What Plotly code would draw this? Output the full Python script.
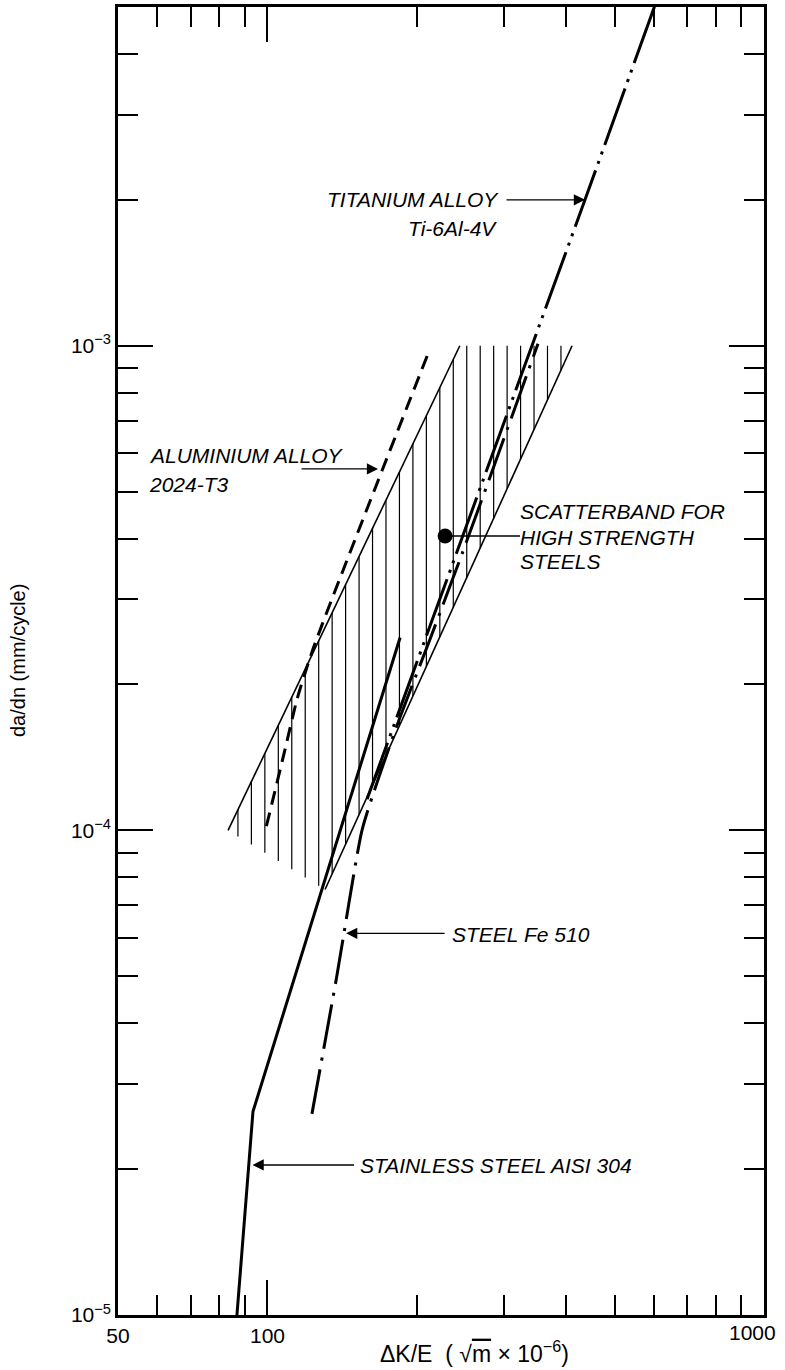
import numpy as np
import plotly.graph_objects as go

# ---------------- data ----------------
# Scatterband for high strength steels (upper / lower boundary lines)
band_upper_x = [83.3, 244.0]
band_upper_y = [1.0e-4, 1.0e-3]
band_lower_x = [130.6, 410.6]
band_lower_y = [7.55e-5, 1.0e-3]
band_bottom_left_x = [83.3, 130.6]
band_bottom_left_y = [1.0e-4, 7.55e-5]
band_top_y = 1.0e-3
hatch_x_start, hatch_x_end, hatch_count = 87.2, 390.0, 25

# Stainless steel AISI 304 (solid)
ss_x = [86.8, 93.5, 185.0]
ss_y = [1.0e-5, 2.63e-5, 2.5e-4]

# Steel Fe 510 (dash-dot)
fe_x = [122.9, 138.1, 155.0, 167.0, 184.9, 212.5, 246.5, 280.7, 322.6, 350.6]
fe_y = [2.6e-5, 5.04e-5, 1.0e-4, 1.274e-4, 1.712e-4, 2.48e-4, 3.72e-4, 5.36e-4, 7.96e-4, 1.01e-3]

# Titanium alloy Ti-6Al-4V (dash-dot-dot)
ti_x = [158.7, 436.0, 603.0]
ti_y = [1.16e-4, 2.0e-3, 5.04e-3]

# Aluminium alloy 2024-T3 (dashed)
al_x = [99.5, 108.5, 114.7, 123.5, 212.5]
al_y = [1.02e-4, 1.47e-4, 1.865e-4, 2.366e-4, 9.86e-4]

# marker dot for the scatterband label
dot_x, dot_y = 227.9, 4.05e-4
dot_line_end_x = 322.6

# arrow tips (data) for the labels
arrow_ti = (436.0, 2.0e-3)
arrow_al = (167.0, 5.57e-4)
arrow_fe = (144.0, 6.13e-5)
arrow_ss = (93.3, 2.04e-5)

# axes
x_range = [50, 1000]
y_range = [1e-5, 5e-3]
x_major = [50, 100, 1000]
x_major_text = ["50", "100", ""]
x_end_label = "1000"
x_minor = [60, 70, 80, 90, 200, 300, 400, 500, 600, 700, 800, 900]
y_major = [1e-5, 1e-4, 1e-3]
y_major_text = ["10<sup>\u2212%d</sup>" % k for k in (5, 4, 3)]
y_minor = [m * 10.0 ** e for e in (-5, -4) for m in range(2, 10)] + [2e-3, 3e-3, 4e-3]

# ---------------- figure ----------------
FONT = "Liberation Sans, Arial, sans-serif"
L, R, T, B = 118, 21, 7, 55
W, H = 785, 1370
PW, PH = W - L - R, H - T - B

fig = go.Figure()


def loginterp(x, xs, ys):
    return 10 ** np.interp(np.log10(x), np.log10(xs), np.log10(ys))


# hatching of the scatterband
hx = np.geomspace(hatch_x_start, hatch_x_end, hatch_count)
hxs, hys = [], []
for xv in hx:
    top = min(loginterp(xv, band_upper_x, band_upper_y), band_top_y)
    if xv <= band_lower_x[0]:
        bot = loginterp(xv, band_bottom_left_x, band_bottom_left_y)
    else:
        bot = loginterp(xv, band_lower_x, band_lower_y)
    hxs += [xv, xv, None]
    hys += [bot, top, None]
fig.add_trace(go.Scatter(x=hxs, y=hys, mode="lines",
                         line=dict(color="black", width=1.2), hoverinfo="skip"))

# band boundaries
fig.add_trace(go.Scatter(x=band_upper_x, y=band_upper_y, mode="lines",
                         line=dict(color="black", width=1.6)))
fig.add_trace(go.Scatter(x=band_lower_x, y=band_lower_y, mode="lines",
                         line=dict(color="black", width=1.6)))

# material curves
fig.add_trace(go.Scatter(x=ss_x, y=ss_y, mode="lines",
                         line=dict(color="black", width=3)))
fig.add_trace(go.Scatter(x=fe_x, y=fe_y, mode="lines",
                         line=dict(color="black", width=3, dash="45px,9px,3px,9px",
                                   shape="spline", smoothing=0.6)))
fig.add_trace(go.Scatter(x=ti_x, y=ti_y, mode="lines",
                         line=dict(color="black", width=3, dash="60px,7px,3px,7px,3px,7px")))
fig.add_trace(go.Scatter(x=al_x, y=al_y, mode="lines",
                         line=dict(color="black", width=3, dash="14px,8px",
                                   shape="spline", smoothing=0.6)))

# dot + leader line
fig.add_trace(go.Scatter(x=[dot_x, dot_line_end_x], y=[dot_y, dot_y], mode="lines",
                         line=dict(color="black", width=1.5)))
fig.add_trace(go.Scatter(x=[dot_x], y=[dot_y], mode="markers",
                         marker=dict(color="black", size=15)))


def arrow(tip, ax):
    fig.add_annotation(x=np.log10(tip[0]), y=np.log10(tip[1]), xref="x", yref="y",
                       text="", showarrow=True, ax=ax, ay=0,
                       arrowhead=2, arrowsize=1.6, arrowwidth=1.4, arrowcolor="black")


def label(px, py, txt, anchor="left", size=21):
    fig.add_annotation(x=(px - L) / PW, y=(H - B - py) / PH,
                       xref="paper", yref="paper", text="<i>" + txt + "</i>",
                       showarrow=False, xanchor=anchor, yanchor="middle",
                       font=dict(family=FONT, size=size, color="black"))


# titanium
arrow(arrow_ti, -80)
label(501, 200, "TITANIUM ALLOY", "right")
label(499, 228, "Ti-6Al-4V", "right")
# aluminium
arrow(arrow_al, -78)
label(147, 455, "ALUMINIUM ALLOY")
label(147, 484, "2024-T3")
# scatterband
label(518, 511, "SCATTERBAND FOR")
label(518, 537, "HIGH STRENGTH")
label(518, 562, "STEELS")
# Fe 510
arrow(arrow_fe, 100)
label(450, 934, "STEEL Fe 510")
# stainless
arrow(arrow_ss, 103)
label(358, 1165, "STAINLESS STEEL AISI 304")

# end tick label of the x axis (kept inside the page)
fig.add_annotation(x=1.0, y=0, xref="paper", yref="paper", text=x_end_label,
                   showarrow=False, xanchor="right", yanchor="top", xshift=14, yshift=-4,
                   font=dict(family=FONT, size=21, color="black"))

# axis titles as annotations
fig.add_annotation(x=(18 - L) / PW, y=0.5, xref="paper", yref="paper",
                   text="da/dn (mm/cycle)", textangle=-90, showarrow=False,
                   xanchor="center", yanchor="middle",
                   font=dict(family=FONT, size=20, color="black"))
fig.add_annotation(x=(474 - L) / PW, y=(H - B - 1352) / PH, xref="paper", yref="paper",
                   text="\u0394K/E\u00a0\u00a0(\u00a0\u221a<span style='text-decoration:overline'>m</span>"
                        "\u00a0\u00d7\u00a010<sup>\u22126</sup>)",
                   showarrow=False, xanchor="center", yanchor="middle",
                   font=dict(family=FONT, size=23, color="black"))

axis_common = dict(showgrid=False, zeroline=False, showline=True, linecolor="black",
                   linewidth=2.5, mirror="allticks", ticks="inside", ticklen=35,
                   tickwidth=1.6, tickcolor="black",
                   tickfont=dict(family=FONT, size=21, color="black"))

fig.update_xaxes(type="log", range=[np.log10(x_range[0]), np.log10(x_range[1])],
                 tickmode="array", tickvals=x_major, ticktext=x_major_text,
                 minor=dict(tickmode="array", tickvals=x_minor, ticks="inside",
                            ticklen=20, tickwidth=1.6, tickcolor="black", showgrid=False),
                 **axis_common)
fig.update_yaxes(type="log", range=[np.log10(y_range[0]), np.log10(y_range[1])],
                 tickmode="array", tickvals=y_major, ticktext=y_major_text,
                 minor=dict(tickmode="array", tickvals=y_minor, ticks="inside",
                            ticklen=20, tickwidth=1.6, tickcolor="black", showgrid=False),
                 **axis_common)

fig.update_layout(width=W, height=H, showlegend=False,
                  margin=dict(l=L, r=R, t=T, b=B, autoexpand=False),
                  paper_bgcolor="white", plot_bgcolor="white")

fig.write_html("out.html", config={"displayModeBar": False},
               post_script="document.body.style.margin='0';document.body.style.overflow='hidden';")
